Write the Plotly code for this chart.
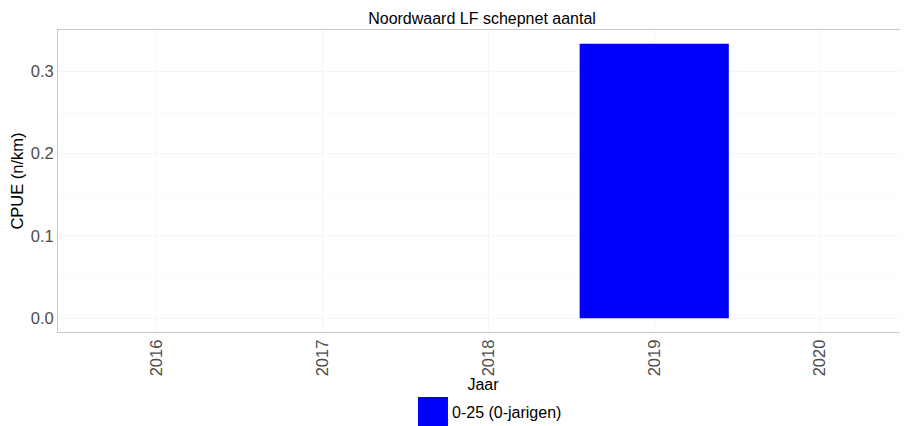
import plotly.graph_objects as go

jaren = [2016, 2017, 2018, 2019, 2020]
cpue = [0, 0, 0, 1 / 3, 0]
lengteklasse = "0-25 (0-jarigen)"
titel = "Noordwaard LF schepnet aantal"

fig = go.Figure()
fig.add_trace(go.Bar(
    x=jaren, y=cpue, width=0.9, name=lengteklasse,
    marker=dict(color="#0000FF", line=dict(width=0)),
    showlegend=False,
))

# legend drawn by hand (ggplot style big key at the bottom)
fig.add_shape(type="rect", xref="paper", yref="paper",
              x0=0.4235, x1=0.4588, y0=-0.32, y1=-0.215,
              fillcolor="#0000FF", line=dict(width=0))
fig.add_annotation(text=lengteklasse, xref="paper", yref="paper",
                   x=0.4615, y=-0.265, xanchor="left", yanchor="middle",
                   showarrow=False, font=dict(size=16, color="#000000"))

# page body has an 8px margin, so the figure is a bit smaller than the window
fig.update_layout(
    width=900, height=418,
    margin=dict(l=50, r=0, t=22, b=94),
    paper_bgcolor="white", plot_bgcolor="white",
    font=dict(family="Liberation Sans, Arial, sans-serif"),
    title=dict(text=titel, x=0.5267, xanchor="center", y=0.976, yanchor="middle",
               font=dict(size=16, color="#000000")),
    bargap=0.1,
)
fig.update_xaxes(
    range=[2015.403, 2020.531], tickvals=jaren, ticktext=[str(j) for j in jaren],
    tickangle=-90, tickfont=dict(size=16.5, color="#4D4D4D"),
    showgrid=True, gridcolor="#F5F5F5", gridwidth=1,
    showline=True, linecolor="#C8C8C8", linewidth=1, mirror=True,
    ticks="", zeroline=False, automargin=False,
    title=dict(text="Jaar", font=dict(size=16, color="#000000"), standoff=0),
)
fig.update_yaxes(
    range=[-0.01667, 0.35], tickvals=[0, 0.1, 0.2, 0.3],
    ticktext=["0.0", "0.1", "0.2", "0.3"],
    tickfont=dict(size=16.5, color="#4D4D4D"),
    showgrid=True, gridcolor="#F5F5F5", gridwidth=1,
    minor=dict(tickvals=[0.05, 0.15, 0.25], showgrid=True, gridcolor="#FAFAFA"),
    showline=True, linecolor="#C8C8C8", linewidth=1, mirror=False,
    ticks="", zeroline=False, automargin=False,
    title=dict(text="CPUE (n/km)", font=dict(size=16.5, color="#000000"), standoff=3),
)

fig.write_html("out.html")
